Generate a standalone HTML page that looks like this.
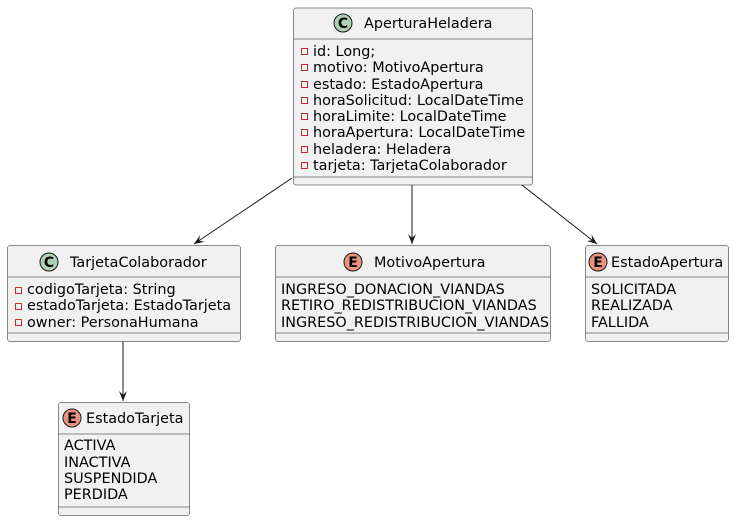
<!DOCTYPE html>
<html><head><meta charset="utf-8"><style>
html,body{margin:0;padding:0;background:#fff}
svg{display:block}
text{font-family:"DejaVu Sans","Liberation Sans",sans-serif;font-size:14.4px;fill:#000}
.box{fill:#F1F1F1;stroke:#181818;stroke-width:0.5}
.sep{stroke:#181818;stroke-width:0.5}
.sq{fill:none;stroke:#C82930;stroke-width:1}
.ln{stroke:#181818;stroke-width:1;fill:none}
.ic{font-weight:bold;font-size:14px}
</style></head><body>
<svg width="734" height="521" viewBox="0 0 734 521" xmlns="http://www.w3.org/2000/svg">
<defs>
<marker id="ah" markerWidth="12" markerHeight="10" refX="10" refY="5" orient="auto" markerUnits="userSpaceOnUse">
<polygon points="10,5 0,1 4,5 0,9" fill="#181818"/>
</marker>
</defs>

<line class="ln" x1="292" y1="178" x2="194" y2="244" marker-end="url(#ah)"/>
<line class="ln" x1="412" y1="185" x2="412" y2="244" marker-end="url(#ah)"/>
<line class="ln" x1="522" y1="185" x2="597" y2="244" marker-end="url(#ah)"/>
<line class="ln" x1="123" y1="341" x2="123" y2="401" marker-end="url(#ah)"/>

<!-- AperturaHeladera -->
<rect class="box" x="293.5" y="8" width="239" height="177" rx="2.5"/>
<line class="sep" x1="293.5" y1="39" x2="532.5" y2="39"/>
<line class="sep" x1="293.5" y1="177" x2="532.5" y2="177"/>
<circle cx="343" cy="23" r="9" fill="#ADD1B2" stroke="#181818" stroke-width="1"/>
<text x="343" y="28" text-anchor="middle" class="ic">C</text>
<text x="364" y="28">AperturaHeladera</text>
<rect class="sq" x="301.5" y="48.5" width="6" height="6"/><text x="313" y="56">id: Long;</text>
<rect class="sq" x="301.5" y="64.5" width="6" height="6"/><text x="313" y="72">motivo: MotivoApertura</text>
<rect class="sq" x="301.5" y="81.5" width="6" height="6"/><text x="313" y="89">estado: EstadoApertura</text>
<rect class="sq" x="301.5" y="97.5" width="6" height="6"/><text x="313" y="105">horaSolicitud: LocalDateTime</text>
<rect class="sq" x="301.5" y="113.5" width="6" height="6"/><text x="313" y="121">horaLimite: LocalDateTime</text>
<rect class="sq" x="301.5" y="129.5" width="6" height="6"/><text x="313" y="137">horaApertura: LocalDateTime</text>
<rect class="sq" x="301.5" y="146.5" width="6" height="6"/><text x="313" y="154">heladera: Heladera</text>
<rect class="sq" x="301.5" y="162.5" width="6" height="6"/><text x="313" y="170">tarjeta: TarjetaColaborador</text>

<!-- TarjetaColaborador -->
<rect class="box" x="7.5" y="245.5" width="233" height="96" rx="2.5"/>
<line class="sep" x1="7.5" y1="277" x2="240.5" y2="277"/>
<line class="sep" x1="7.5" y1="333" x2="240.5" y2="333"/>
<circle cx="49" cy="262" r="9" fill="#ADD1B2" stroke="#181818" stroke-width="1"/>
<text x="49" y="267" text-anchor="middle" class="ic">C</text>
<text x="70" y="267">TarjetaColaborador</text>
<rect class="sq" x="15.5" y="287.5" width="6" height="6"/><text x="27" y="294">codigoTarjeta: String</text>
<rect class="sq" x="15.5" y="303.5" width="6" height="6"/><text x="27" y="310">estadoTarjeta: EstadoTarjeta</text>
<rect class="sq" x="15.5" y="319.5" width="6" height="6"/><text x="27" y="327">owner: PersonaHumana</text>

<!-- MotivoApertura -->
<rect class="box" x="275.5" y="245.5" width="275" height="96" rx="2.5"/>
<line class="sep" x1="275.5" y1="277" x2="550.5" y2="277"/>
<line class="sep" x1="275.5" y1="333" x2="550.5" y2="333"/>
<circle cx="353" cy="262" r="9" fill="#EB937F" stroke="#181818" stroke-width="1"/>
<text x="353" y="267" text-anchor="middle" class="ic">E</text>
<text x="374" y="267">MotivoApertura</text>
<text x="281" y="294">INGRESO_DONACION_VIANDAS</text>
<text x="281" y="310">RETIRO_REDISTRIBUCION_VIANDAS</text>
<text x="281" y="327">INGRESO_REDISTRIBUCION_VIANDAS</text>

<!-- EstadoApertura -->
<rect class="box" x="585.5" y="245.5" width="143" height="96" rx="2.5"/>
<line class="sep" x1="585.5" y1="277" x2="728.5" y2="277"/>
<line class="sep" x1="585.5" y1="333" x2="728.5" y2="333"/>
<circle cx="598" cy="262" r="9" fill="#EB937F" stroke="#181818" stroke-width="1"/>
<text x="598" y="267" text-anchor="middle" class="ic">E</text>
<text x="611" y="267">EstadoApertura</text>
<text x="591" y="294">SOLICITADA</text>
<text x="591" y="310">REALIZADA</text>
<text x="591" y="327">FALLIDA</text>

<!-- EstadoTarjeta -->
<rect class="box" x="58.5" y="402.5" width="131" height="113" rx="2.5"/>
<line class="sep" x1="58.5" y1="434" x2="189.5" y2="434"/>
<line class="sep" x1="58.5" y1="507" x2="189.5" y2="507"/>
<circle cx="72" cy="418" r="9" fill="#EB937F" stroke="#181818" stroke-width="1"/>
<text x="72" y="423" text-anchor="middle" class="ic">E</text>
<text x="86" y="423">EstadoTarjeta</text>
<text x="64" y="450">ACTIVA</text>
<text x="64" y="467">INACTIVA</text>
<text x="64" y="483">SUSPENDIDA</text>
<text x="64" y="499">PERDIDA</text>
</svg>
</body></html>
